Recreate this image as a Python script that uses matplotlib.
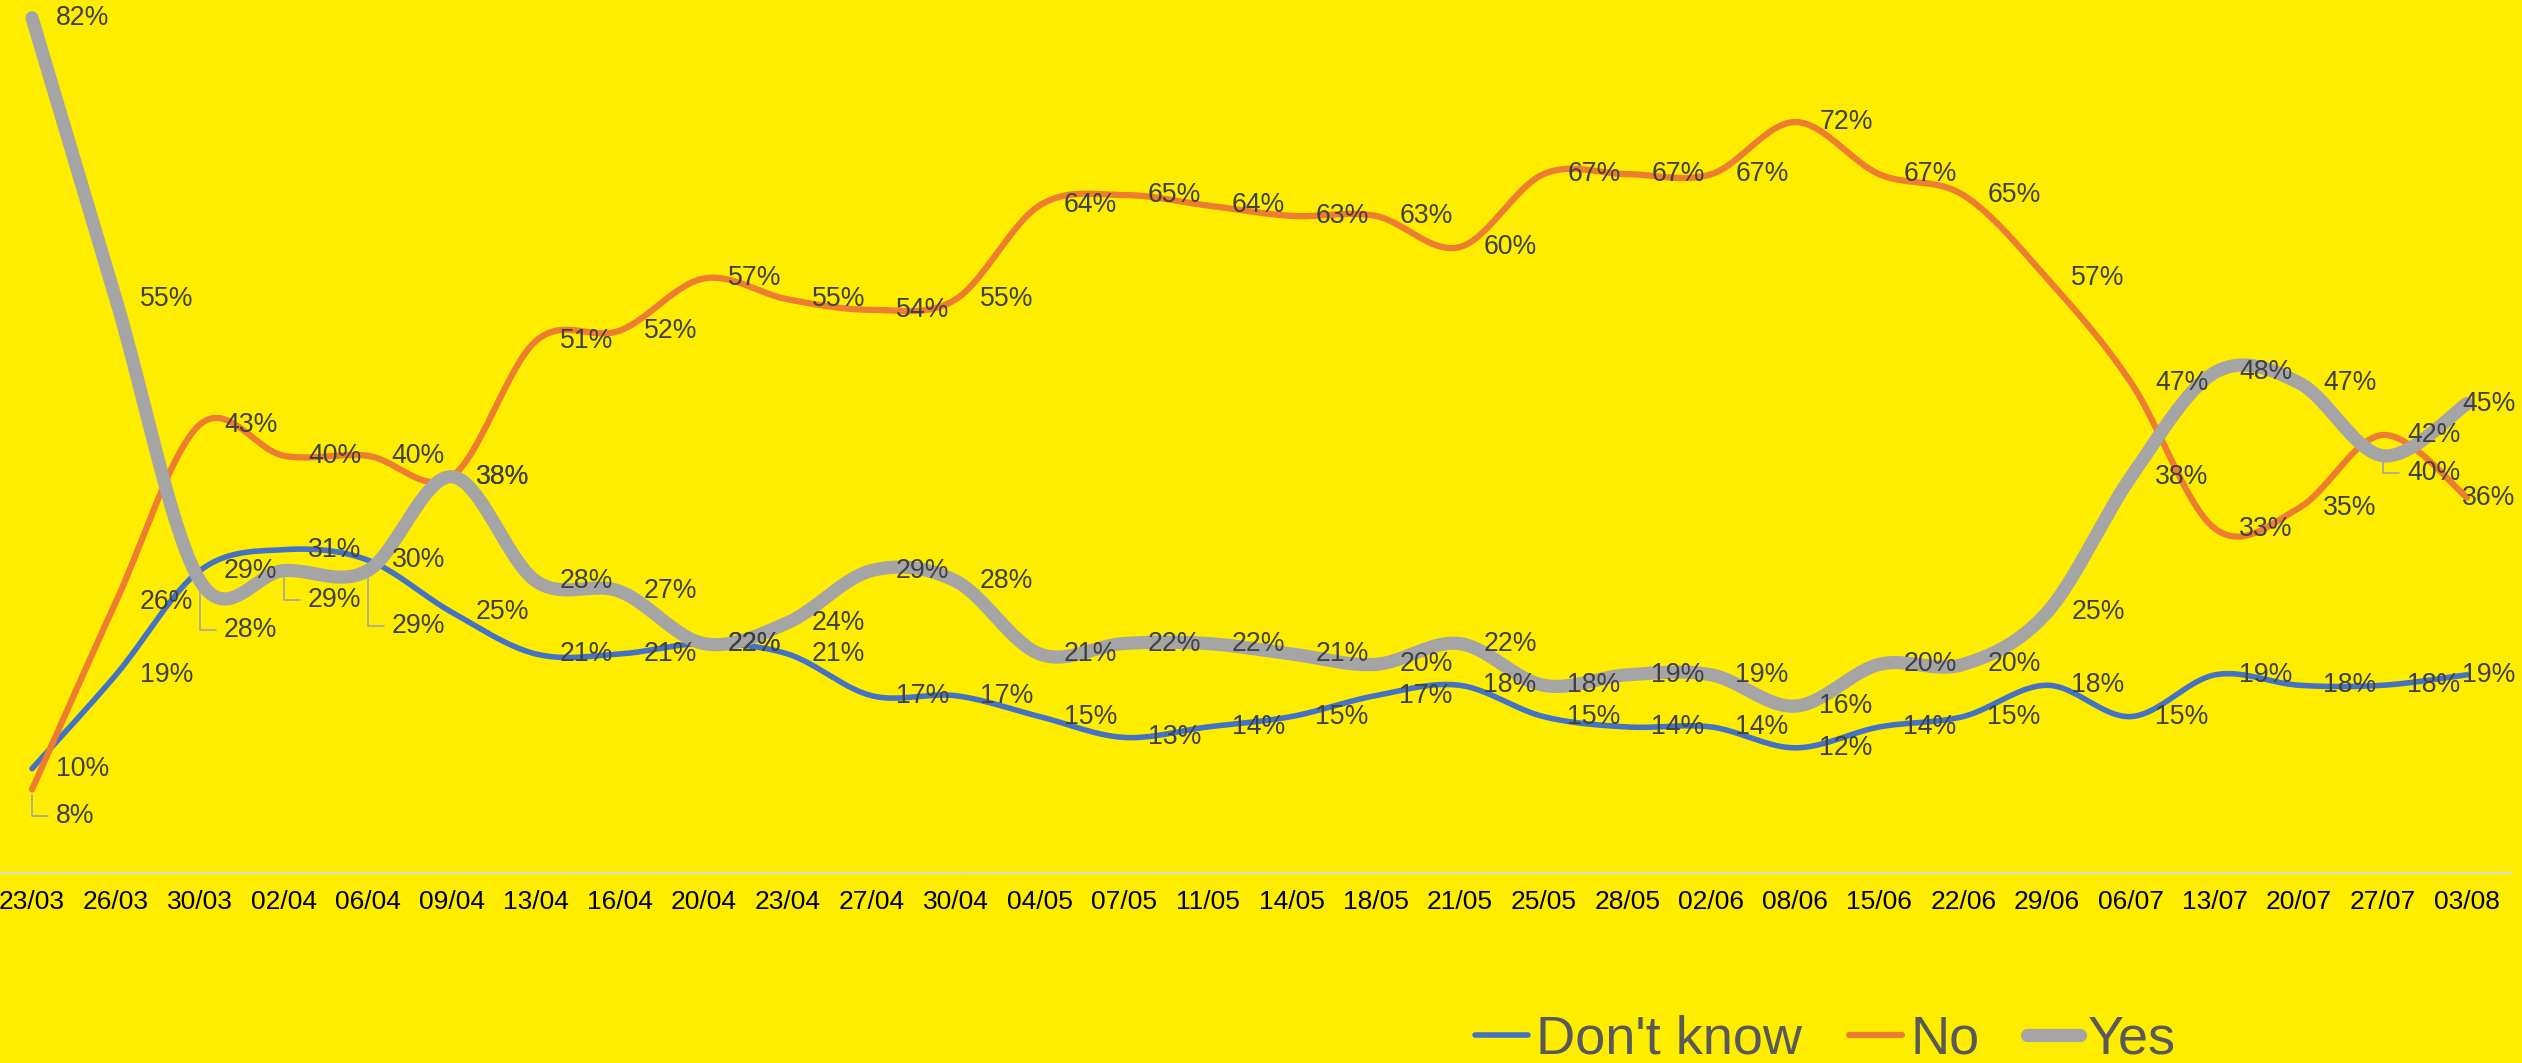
import numpy as np
import matplotlib
matplotlib.use('Agg')
import matplotlib.pyplot as plt
from matplotlib import font_manager

plt.rcParams['font.family'] = ['Liberation Sans', 'DejaVu Sans']

# poll dates and shares (%)
dates = ['23/03', '26/03', '30/03', '02/04', '06/04', '09/04', '13/04', '16/04',
         '20/04', '23/04', '27/04', '30/04', '04/05', '07/05', '11/05', '14/05',
         '18/05', '21/05', '25/05', '28/05', '02/06', '08/06', '15/06', '22/06',
         '29/06', '06/07', '13/07', '20/07', '27/07', '03/08']
dont_know = [10, 19, 29, 31, 30, 25, 21, 21, 22, 21, 17, 17, 15, 13, 14, 15,
             17, 18, 15, 14, 14, 12, 14, 15, 18, 15, 19, 18, 18, 19]
no = [8, 26, 43, 40, 40, 38, 51, 52, 57, 55, 54, 55, 64, 65, 64, 63,
      63, 60, 67, 67, 67, 72, 67, 65, 57, 47, 33, 35, 42, 36]
yes = [82, 55, 28, 29, 29, 38, 28, 27, 22, 24, 29, 28, 21, 22, 22, 21,
       20, 22, 18, 19, 19, 16, 20, 20, 25, 38, 48, 47, 40, 45]

YELLOW = '#FFED00'
series = [('Don\'t know', dont_know, '#4472C4', 4.0),
          ('No', no, '#ED7D31', 4.5),
          ('Yes', yes, '#A5A5A5', 9.5)]

# labels that excel pushed down (pixels) and hooked with a leader line
moved = {('No', 0): 26, ('Yes', 2): 49, ('Yes', 3): 29, ('Yes', 4): 55, ('Yes', 28): 17}


def smooth(vals, n=25):
    # excel style smoothed line: bezier through the points (catmull-rom handles)
    P = np.column_stack([np.arange(len(vals)), vals]).astype(float)
    t = np.linspace(0, 1, n)[:, None]
    out = []
    for i in range(len(P) - 1):
        p0 = P[max(i - 1, 0)]
        p1 = P[i]
        p2 = P[i + 1]
        p3 = P[min(i + 2, len(P) - 1)]
        c1 = p1 + (p2 - p0) / 6
        c2 = p2 - (p3 - p1) / 6
        seg = (1 - t)**3 * p1 + 3 * (1 - t)**2 * t * c1 + 3 * (1 - t) * t**2 * c2 + t**3 * p2
        out.append(seg if i == 0 else seg[1:])
    return np.vstack(out)


fig = plt.figure(figsize=(25.22, 10.63), dpi=100)
fig.patch.set_facecolor(YELLOW)
ax = fig.add_axes([0, 190 / 1063, 2511 / 2522, 873 / 1063])
ax.set_facecolor(YELLOW)

for name, vals, col, lw in series:
    pts = smooth(vals)
    ax.plot(pts[:, 0], pts[:, 1], color=col, lw=lw, solid_capstyle='round', label=name)

for name, vals, col, lw in series:
    for i, v in enumerate(vals):
        dx = 24 if i < len(vals) - 1 else -5
        dy = moved.get((name, i), 0)
        kw = {}
        if dy:
            kw['arrowprops'] = dict(arrowstyle='-', color='#A6A6A6', lw=1.2,
                                    connectionstyle='angle,angleA=0,angleB=90,rad=0',
                                    relpos=(0, 0.5), shrinkA=4, shrinkB=4)
        ax.annotate(f'{v}%', (i, v), xytext=(dx, -dy), textcoords='offset pixels',
                    ha='left', va='center', fontsize=19.2, color='#404040', zorder=5, **kw)

ax.set_xlim(-0.381, 29.524)
ax.set_ylim(0, 83.7)
ax.set_xticks(range(len(dates)))
ax.set_xticklabels(dates, fontsize=19, color='black')
ax.tick_params(axis='x', length=0, pad=12)
ax.set_yticks([])
for s in ['top', 'left', 'right']:
    ax.spines[s].set_visible(False)
ax.spines['bottom'].set_color('#D9D9D9')
ax.spines['bottom'].set_linewidth(1.6)

# legend font in the original is a narrow sans
have = {f.name for f in font_manager.fontManager.ttflist}
if 'Liberation Sans Narrow' in have:
    leg_prop = {'family': 'Liberation Sans Narrow', 'size': 46}
    hl, htp, cs = 0.82, 0.12, 0.75
else:
    leg_prop = {'family': 'Liberation Sans', 'size': 39}
    hl, htp, cs = 0.98, 0.14, 0.88

fig.legend(loc='center left', bbox_to_anchor=(1475 / 2522, 0.022), ncol=3, frameon=False,
           borderpad=0, borderaxespad=0, handlelength=hl, handletextpad=htp,
           columnspacing=cs, labelcolor='#595959', prop=leg_prop)

fig.savefig('out.png', dpi=100, facecolor=YELLOW)
